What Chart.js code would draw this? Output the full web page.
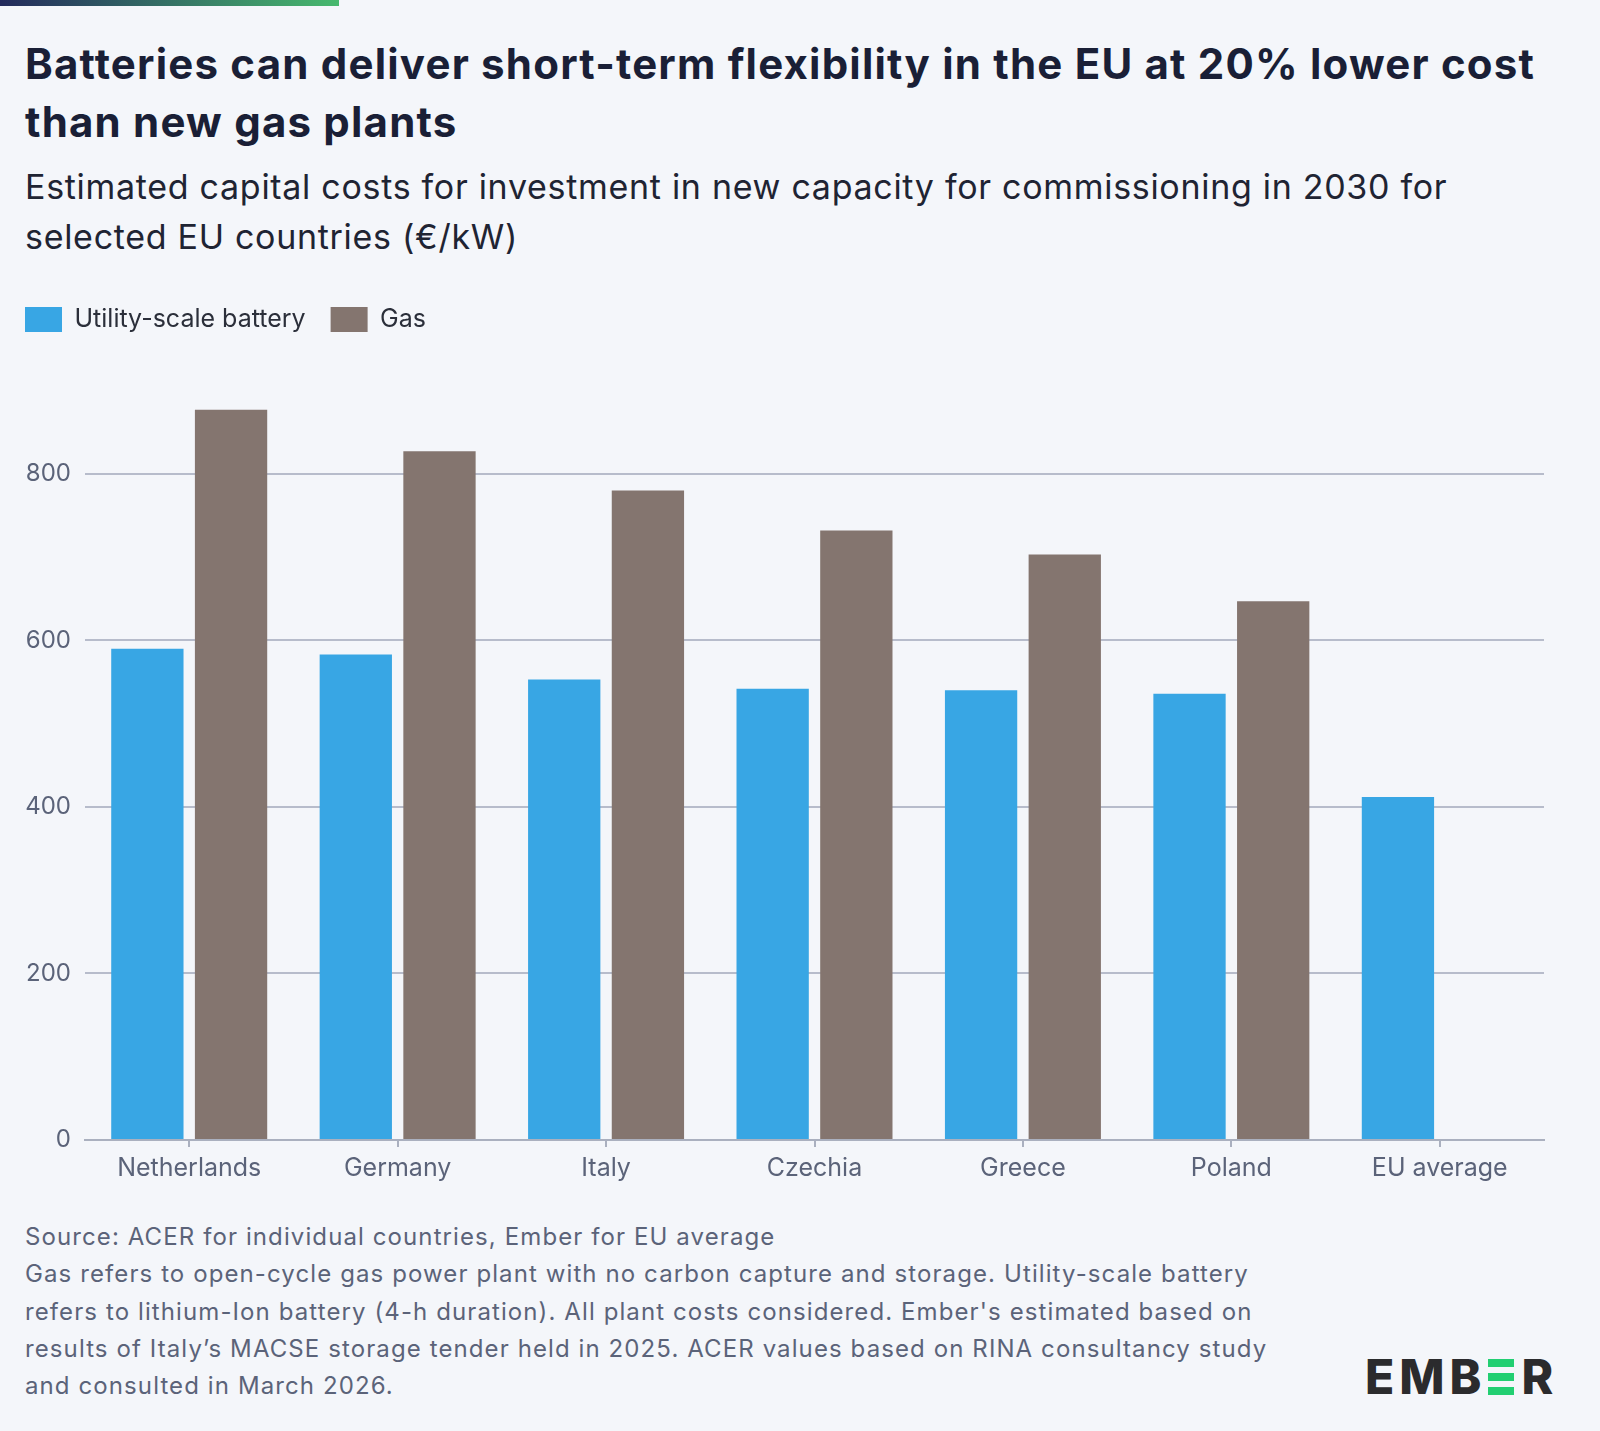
<!DOCTYPE html>
<html lang="en">
<head>
  <meta charset="UTF-8" />
  <title>Batteries vs gas capital costs</title>
  <script src="https://cdn.jsdelivr.net/npm/chart.js"></script>
  <style>
    html, body {
      margin: 0;
      padding: 0;
      background: #f4f6fa;
      font-family: Inter, "Noto Sans", sans-serif;
    }
    .page {
      position: relative;
      width: 1600px;
      height: 1431px;
      overflow: hidden;
    }
    .topbar {
      position: absolute;
      left: 0; top: 0;
      width: 339px; height: 6px;
      background: linear-gradient(to right, #232a5c, #47b96e);
    }
    .title {
      position: absolute;
      left: 25px; top: 35px;
      font-size: 42px;
      letter-spacing: 1.2px;
      font-weight: 700;
      line-height: 57.5px;
      color: #1a1f36;
      white-space: nowrap;
    }
    .subtitle {
      position: absolute;
      left: 25px; top: 162px;
      font-size: 34px;
      letter-spacing: 0.7px;
      font-weight: 400;
      line-height: 50px;
      color: #1f2433;
      white-space: nowrap;
    }
    .chart-box {
      position: absolute;
      left: 0; top: 282px;
      width: 1600px; height: 907px;
    }
    .note {
      position: absolute;
      left: 25px; top: 1218px;
      font-size: 24px;
      letter-spacing: 1.1px;
      line-height: 37.3px;
      color: #5b6379;
      white-space: nowrap;
    }
    .logo {
      position: absolute;
      left: 1365px; top: 1352px;
      display: flex;
      align-items: center;
      gap: 5px;
      font-size: 48px;
      font-weight: 800;
      line-height: 50px;
      color: #2b2b2d;
    }
    .logo .e3 {
      display: flex;
      flex-direction: column;
      justify-content: space-between;
      width: 26px;
      height: 36px;
      margin: 0 2px;
    }
    .logo .e3 span {
      display: block;
      height: 8px;
      background: #22cf72;
    }
  </style>
</head>
<body>
<div class="page">
  <div class="topbar"></div>
  <div class="title">Batteries can deliver short-term flexibility in the EU at 20% lower cost<br>than new gas plants</div>
  <div class="subtitle">Estimated capital costs for investment in new capacity for commissioning in 2030 for<br>selected EU countries (€/kW)</div>

  <div class="chart-box"><canvas id="costChart" width="1600" height="907"></canvas></div>

  <div class="note">
    Source: ACER for individual countries, Ember for EU average<br>
    Gas refers to open-cycle gas power plant with no carbon capture and storage. Utility-scale battery<br>
    refers to lithium-Ion battery (4-h duration). All plant costs considered. Ember's estimated based on<br>
    results of Italy’s MACSE storage tender held in 2025. ACER values based on RINA consultancy study<br>
    and consulted in March 2026.
  </div>

  <div class="logo"><span>E</span><span>M</span><span>B</span><div class="e3"><span></span><span></span><span></span></div><span>R</span></div>
</div>

<script>
  // values (€/kW)
  const countries = ['Netherlands', 'Germany', 'Italy', 'Czechia', 'Greece', 'Poland', 'EU average'];
  const batteryCost = [590, 583, 553, 542, 540, 536, 412];
  const gasCost = [877, 827, 780, 732, 703, 647, null];
  const yTicks = [0, 200, 400, 600, 800];

  const axisColor = '#5b6379';
  const gridColor = '#b7bccb';

  // push the plot down below the legend
  const legendSpacer = {
    id: 'legendSpacer',
    beforeLayout(chart) {
      const legend = chart.legend;
      if (!legend || legend._spaced) return;
      const fit = legend.fit;
      legend.fit = function () {
        fit.call(this);
        this.height += 48.5;
      };
      legend._spaced = true;
    }
  };

  new Chart(document.getElementById('costChart'), {
    type: 'bar',
    data: {
      labels: countries,
      datasets: [
        { label: 'Utility-scale battery', data: batteryCost, backgroundColor: '#38a6e4' },
        { label: 'Gas', data: gasCost, backgroundColor: '#84756f' }
      ]
    },
    options: {
      responsive: false,
      animation: false,
      devicePixelRatio: 1,
      categoryPercentage: 0.803,
      barPercentage: 0.864,
      layout: { padding: { left: 0, right: 56, top: 0, bottom: 0 } },
      plugins: {
        legend: {
          position: 'top',
          align: 'start',
          labels: {
            boxWidth: 37,
            boxHeight: 25,
            padding: 25,
            color: '#2b2f3a',
            font: { family: 'Inter', size: 25 }
          }
        },
        tooltip: { enabled: false }
      },
      scales: {
        x: {
          grid: {
            display: true,
            offset: false,
            drawOnChartArea: false,
            drawTicks: true,
            tickLength: 7,
            color: '#aab0bf',
            lineWidth: 2
          },
          border: { display: true, color: '#aab0bf', width: 2 },
          ticks: {
            color: axisColor,
            padding: 6,
            font: { family: 'Inter', size: 25 }
          }
        },
        y: {
          min: 0,
          max: 900,
          afterBuildTicks(scale) {
            scale.ticks = yTicks.map(v => ({ value: v }));
          },
          afterFit(scale) {
            scale.width = 85;
          },
          grid: { color: gridColor, lineWidth: 2, drawTicks: false },
          border: { display: false },
          ticks: {
            color: axisColor,
            padding: 14,
            font: { family: 'Inter', size: 24 }
          }
        }
      }
    },
    plugins: [legendSpacer]
  });
</script>
</body>
</html>
